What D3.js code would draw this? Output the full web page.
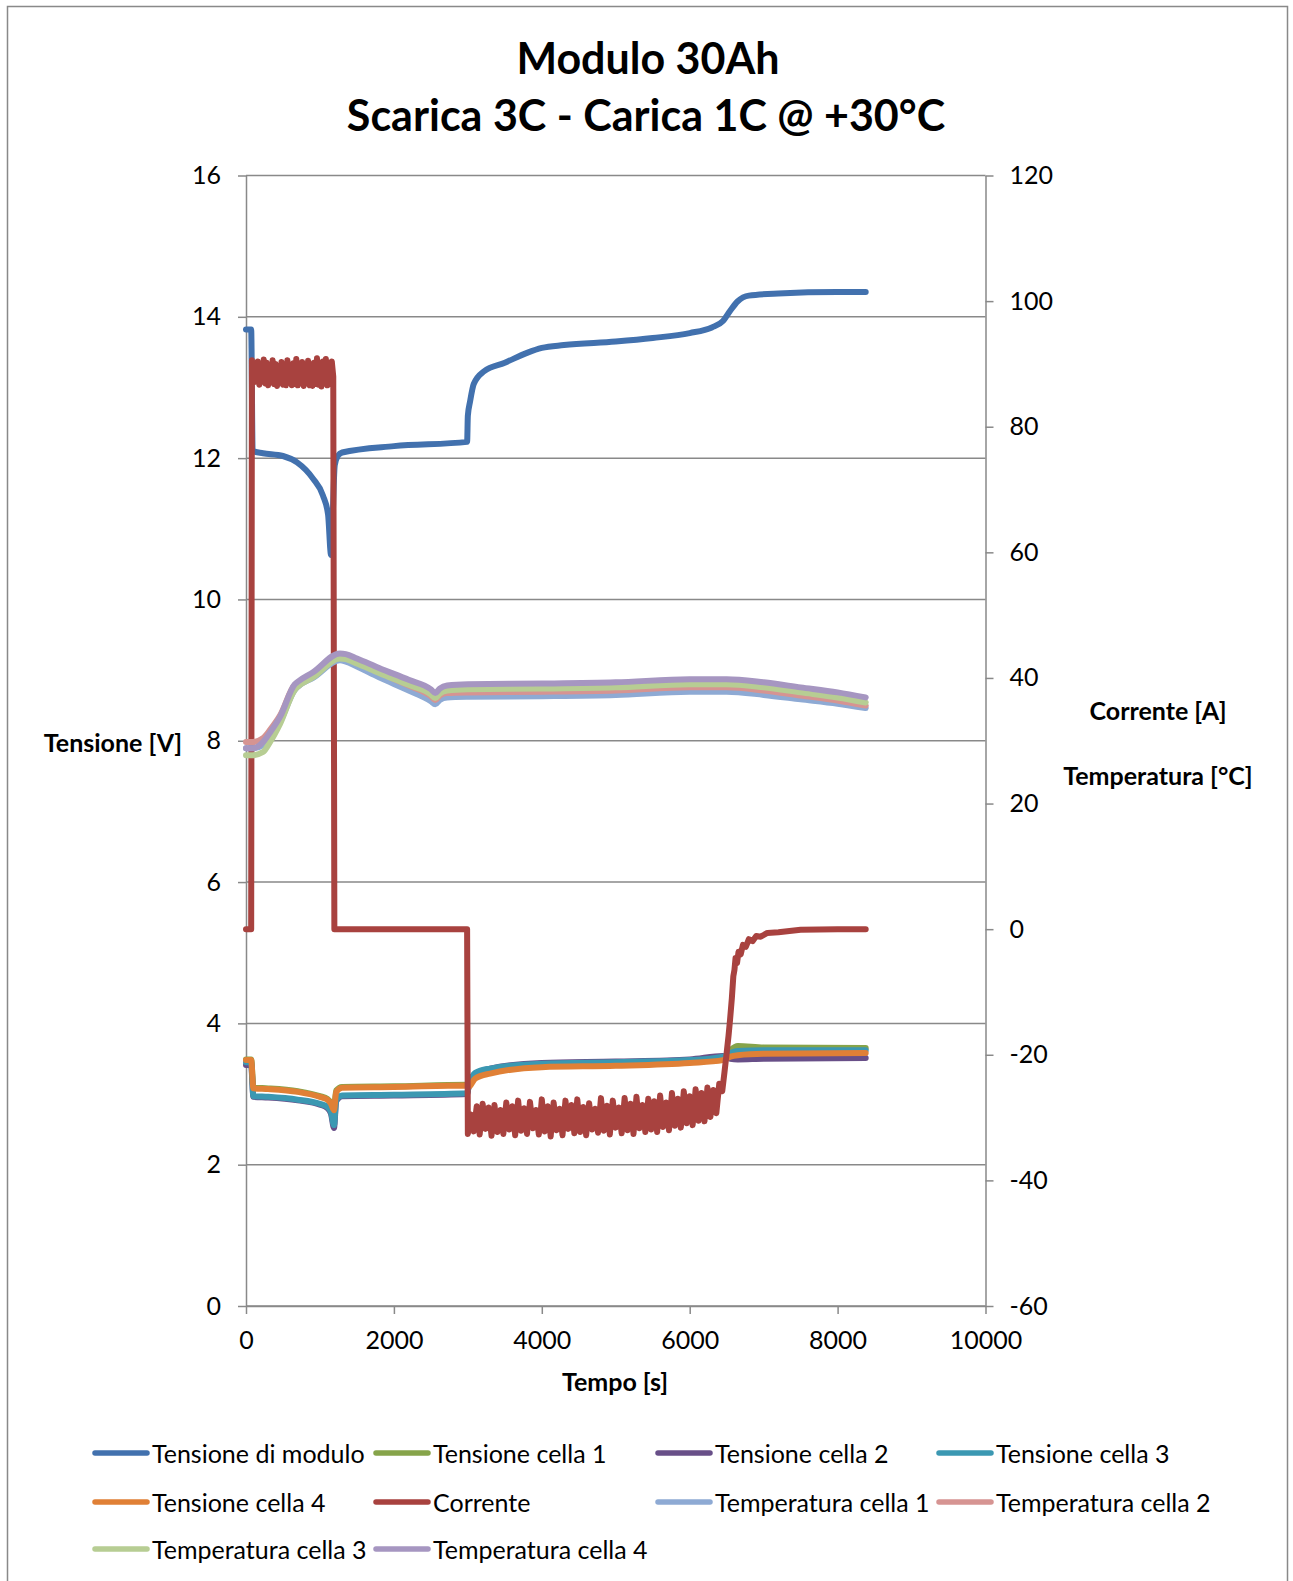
<!DOCTYPE html>
<meta charset="utf-8">
<script src="https://d3js.org/d3.v7.min.js"></script>
<title>Modulo 30Ah</title>
<style>
  body { margin: 0; background: #fff; }
  text { font-family: Lato, "Open Sans", sans-serif; fill: #000; }
  .axis text { font-size: 25px; }
  .axis line, .axis path { stroke: #898989; stroke-width: 1.5px; }
  .grid line { stroke: #898989; stroke-width: 1.5px; }
  .series { fill: none; stroke-width: 6px; stroke-linejoin: round; stroke-linecap: round; }
</style>
<body>
<div id="chart"></div>
<script>
// ---- data ----
var xTicks = [0, 2000, 4000, 6000, 8000, 10000];
var leftTicks = [0, 2, 4, 6, 8, 10, 12, 14, 16];
var rightTicks = [-60, -40, -20, 0, 20, 40, 60, 80, 100, 120];

// Tensione di modulo [V]
var moduleT = [0, 70, 90, 230, 500, 690, 906, 1041, 1110, 1150, 1200, 1240, 1300, 2000, 2990, 3000, 3030, 3080, 3220, 3500, 3800, 4000, 4300, 5000, 5500, 6000, 6300, 6450, 6550, 6650, 6800, 7200, 8000, 8380];
var moduleV = [13.82, 13.82, 12.10, 12.07, 12.03, 11.94, 11.71, 11.47, 11.20, 10.63, 11.90, 12.03, 12.08, 12.17, 12.23, 12.60, 12.80, 13.05, 13.23, 13.35, 13.49, 13.56, 13.60, 13.65, 13.70, 13.77, 13.85, 13.94, 14.09, 14.22, 14.30, 14.33, 14.35, 14.35];

// Tensione celle [V]
var cellT  = [0, 70, 100, 300, 700, 1000, 1100, 1150, 1190, 1220, 1300, 2000, 2990, 3010, 3100, 3300, 4000, 5000, 6000, 6450, 6550, 6650, 7000, 8380];
var cell1V = [3.49, 3.49, 3.09, 3.08, 3.04, 2.97, 2.93, 2.87, 2.78, 3.05, 3.10, 3.11, 3.13, 3.12, 3.24, 3.31, 3.40, 3.42, 3.46, 3.50, 3.62, 3.68, 3.66, 3.65];
var cell2V = [3.41, 3.41, 2.96, 2.95, 2.91, 2.85, 2.80, 2.72, 2.52, 2.90, 2.97, 2.98, 3.00, 3.10, 3.29, 3.36, 3.44, 3.46, 3.49, 3.54, 3.50, 3.49, 3.50, 3.51];
var cell3V = [3.45, 3.45, 2.97, 2.96, 2.92, 2.86, 2.82, 2.74, 2.56, 2.92, 2.98, 2.99, 3.01, 3.10, 3.30, 3.36, 3.43, 3.45, 3.48, 3.53, 3.58, 3.61, 3.62, 3.62];
var cell4V = [3.48, 3.48, 3.08, 3.07, 3.03, 2.96, 2.92, 2.86, 2.77, 3.03, 3.09, 3.10, 3.12, 3.10, 3.22, 3.29, 3.38, 3.40, 3.44, 3.48, 3.53, 3.55, 3.57, 3.58];

// Corrente [A] : steps plus logged samples
var currentStart = [[0, 0], [70, 0]];
var dischargeT0 = 80, dischargeStep = 20;
var dischargeA = [90.6, 87.0, 89.9, 87.2, 90.4, 86.7, 89.6, 87.4, 90.7, 86.9, 90.2, 86.6, 89.5, 87.3, 90.6, 86.8, 90.0, 86.5, 89.4, 87.0,
                  90.3, 86.7, 89.8, 86.6, 90.6, 87.1, 89.7, 86.6, 90.1, 86.8, 90.8, 86.6, 89.8, 86.9, 90.3, 86.5, 89.6, 87.0, 90.5, 86.6,
                  89.9, 86.5, 90.2, 86.8, 90.9, 86.7, 89.7, 86.4, 90.4, 87.0, 90.8, 86.6, 89.8, 86.8, 90.4, 88.0];
var currentRest = [[1195, 0], [2990, 0]];
var chargeT0 = 3000, chargeStep = 40;
var chargeA = [-32.6, -29.5, -32.2, -28.2, -32.7, -27.8, -31.8, -28.4, -32.9, -28.0,
               -32.3, -28.8, -32.6, -27.6, -31.9, -28.2, -32.8, -27.3, -32.1, -28.5,
               -32.6, -27.5, -31.7, -28.8, -32.7, -27.1, -32.2, -28.2, -33.0, -27.6,
               -32.0, -28.6, -32.8, -27.3, -31.8, -28.0, -32.5, -27.1, -32.3, -28.3,
               -32.8, -27.7, -31.9, -28.6, -32.4, -26.9, -32.1, -28.1, -32.7, -27.3,
               -31.6, -28.4, -32.5, -26.9, -32.0, -27.8, -32.6, -26.7, -31.7, -28.0,
               -32.3, -27.0, -31.9, -27.4, -32.3, -26.5, -31.5, -27.6, -32.0, -26.1,
               -31.3, -27.0, -31.6, -25.8, -30.9, -26.6, -31.2, -25.5, -30.5, -26.1,
               -30.6, -25.2, -29.9, -25.6, -29.3, -24.6, -25.8];
var currentTail = [[6470, -22.8], [6500, -19.7], [6525, -17.0], [6545, -14.5], [6570, -11.0], [6590, -7.5], [6605, -6.5],
                   [6620, -4.6], [6640, -5.4], [6660, -3.6], [6690, -4.0], [6720, -2.5], [6760, -2.8], [6800, -1.6], [6850, -1.9],
                   [6900, -1.1], [6960, -1.2], [7050, -0.6], [7200, -0.5], [7500, -0.1], [8000, 0], [8380, 0]];

// Temperature celle [°C]
var tempT  = [0, 90, 230, 330, 460, 660, 700, 906, 1270, 1350, 1500, 1800, 2200, 2500, 2560, 2620, 2720, 3000, 4000, 5000, 6000, 6500, 7000, 7500, 8000, 8380];
var temp1C = [28.8, 28.8, 29.3, 30.8, 33.0, 38.1, 38.6, 40.0, 42.8, 42.6, 41.8, 40.1, 38.0, 36.3, 35.8, 36.5, 36.9, 37.0, 37.1, 37.3, 37.8, 37.8, 37.3, 36.6, 35.9, 35.2];
var temp2C = [29.8, 29.8, 30.4, 31.8, 34.0, 38.9, 39.2, 40.6, 43.5, 43.4, 42.6, 40.9, 38.8, 37.1, 36.5, 37.2, 37.6, 37.7, 37.8, 38.0, 38.5, 38.5, 38.0, 37.2, 36.4, 35.6];
var temp3C = [27.7, 27.7, 28.2, 29.9, 32.7, 38.1, 38.6, 40.1, 43.1, 43.0, 42.3, 40.8, 38.9, 37.4, 36.8, 37.5, 38.0, 38.2, 38.3, 38.5, 39.0, 39.0, 38.5, 37.7, 36.9, 36.1];
var temp4C = [28.8, 28.8, 29.8, 31.4, 33.8, 39.0, 39.4, 40.9, 43.9, 43.8, 43.1, 41.6, 39.7, 38.2, 37.6, 38.3, 38.8, 39.0, 39.1, 39.3, 39.8, 39.8, 39.3, 38.5, 37.7, 36.9];

// ---- build point lists ----
function zip(ts, vs) { return ts.map(function(t, i) { return [t, vs[i]]; }); }
function sampled(t0, step, vs) { return vs.map(function(v, i) { return [t0 + i * step, v]; }); }

var currentPts = currentStart
  .concat(sampled(dischargeT0, dischargeStep, dischargeA))
  .concat(currentRest)
  .concat(sampled(chargeT0, chargeStep, chargeA))
  .concat(currentTail);

var series = [
  {name: "Tensione di modulo",  color: "#4271ae", axis: "L", pts: zip(moduleT, moduleV), smooth: true},
  {name: "Tensione cella 1",    color: "#86a44a", axis: "L", pts: zip(cellT, cell1V), smooth: true},
  {name: "Tensione cella 2",    color: "#684f88", axis: "L", pts: zip(cellT, cell2V), smooth: true},
  {name: "Tensione cella 3",    color: "#3b98b2", axis: "L", pts: zip(cellT, cell3V), smooth: true},
  {name: "Tensione cella 4",    color: "#e08036", axis: "L", pts: zip(cellT, cell4V), smooth: true},
  {name: "Corrente",            color: "#a8423f", axis: "R", pts: currentPts, smooth: false},
  {name: "Temperatura cella 1", color: "#8eaad4", axis: "R", pts: zip(tempT, temp1C), smooth: true},
  {name: "Temperatura cella 2", color: "#d69492", axis: "R", pts: zip(tempT, temp2C), smooth: true},
  {name: "Temperatura cella 3", color: "#b7cd93", axis: "R", pts: zip(tempT, temp3C), smooth: true},
  {name: "Temperatura cella 4", color: "#a696c1", axis: "R", pts: zip(tempT, temp4C), smooth: true}
];

// ---- layout ----
var W = 1293, H = 1581;
var plotL = 246, plotR = 985.5, plotT = 175.5, plotB = 1306;

var svg = d3.select("#chart").append("svg")
  .attr("width", W).attr("height", H);

svg.append("rect")
  .attr("x", 7.5).attr("y", 6.5).attr("width", 1280).attr("height", 1590)
  .attr("fill", "#fff").attr("stroke", "#898989").attr("stroke-width", 1.5);

var x = d3.scaleLinear().domain([0, 10000]).range([plotL, plotR]);
var yL = d3.scaleLinear().domain([0, 16]).range([plotB, plotT]);
var yR = d3.scaleLinear().domain([-60, 120]).range([plotB, plotT]);

var plain = function(d) { return String(d); };

// gridlines
svg.append("g").attr("class", "grid")
  .selectAll("line").data(leftTicks).enter().append("line")
    .attr("x1", plotL).attr("x2", plotR)
    .attr("y1", function(d) { return yL(d); })
    .attr("y2", function(d) { return yL(d); });

// axes
svg.append("g").attr("class", "axis")
  .attr("transform", "translate(" + plotL + ",0)")
  .call(d3.axisLeft(yL).tickValues(leftTicks).tickFormat(plain)
    .tickSize(8).tickSizeOuter(0).tickPadding(17));

svg.append("g").attr("class", "axis")
  .attr("transform", "translate(" + plotR + ",0)")
  .call(d3.axisRight(yR).tickValues(rightTicks).tickFormat(plain)
    .tickSize(8).tickSizeOuter(0).tickPadding(16));

svg.append("g").attr("class", "axis")
  .attr("transform", "translate(0," + plotB + ")")
  .call(d3.axisBottom(x).tickValues(xTicks).tickFormat(plain)
    .tickSize(8).tickSizeOuter(0).tickPadding(17));

svg.selectAll(".axis text").style("font-family", "Lato, 'Open Sans', sans-serif");

// series
series.forEach(function(s) {
  var yy = s.axis === "L" ? yL : yR;
  var line = d3.line()
    .x(function(d) { return x(d[0]); })
    .y(function(d) { return yy(d[1]); })
    .curve(s.smooth ? d3.curveMonotoneX : d3.curveLinear);
  svg.append("path")
    .attr("class", "series")
    .attr("d", line(s.pts))
    .style("stroke", s.color);
});

// titles
svg.append("text").attr("x", 648).attr("y", 74).attr("text-anchor", "middle")
  .style("font-size", "43px").style("font-weight", "bold").text("Modulo 30Ah");
svg.append("text").attr("x", 646).attr("y", 131).attr("text-anchor", "middle")
  .style("font-size", "43px").style("font-weight", "bold").text("Scarica 3C - Carica 1C @ +30°C");

svg.append("text").attr("x", 113).attr("y", 742).attr("text-anchor", "middle")
  .attr("dominant-baseline", "central")
  .style("font-size", "25px").style("font-weight", "bold").text("Tensione [V]");
svg.append("text").attr("x", 1158).attr("y", 710).attr("text-anchor", "middle")
  .attr("dominant-baseline", "central")
  .style("font-size", "25px").style("font-weight", "bold").text("Corrente [A]");
svg.append("text").attr("x", 1158).attr("y", 775).attr("text-anchor", "middle")
  .attr("dominant-baseline", "central")
  .style("font-size", "25px").style("font-weight", "bold").text("Temperatura [°C]");
svg.append("text").attr("x", 615).attr("y", 1381).attr("text-anchor", "middle")
  .attr("dominant-baseline", "central")
  .style("font-size", "25px").style("font-weight", "bold").text("Tempo [s]");

// legend
var legX = [93, 374, 656, 937], legY = [1453, 1502, 1549];
var leg = svg.append("g").selectAll("g").data(series).enter().append("g")
  .attr("transform", function(d, i) {
    return "translate(" + legX[i % 4] + "," + legY[Math.floor(i / 4)] + ")";
  });
leg.append("line")
  .attr("x1", 2).attr("x2", 54).attr("y1", 0).attr("y2", 0)
  .attr("stroke-width", 5.5).attr("stroke-linecap", "round")
  .style("stroke", function(d) { return d.color; });
leg.append("text")
  .attr("x", 59).attr("y", 0).attr("dominant-baseline", "central")
  .style("font-size", "25px")
  .text(function(d) { return d.name; });
</script>
</body>
